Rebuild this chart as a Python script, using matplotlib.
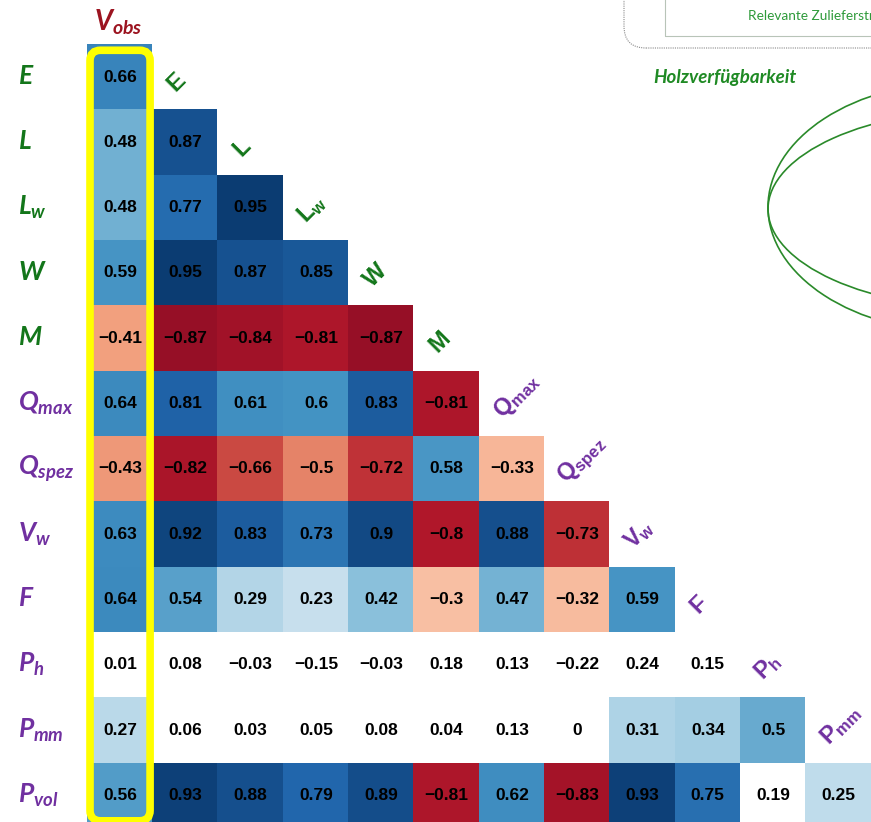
import matplotlib
matplotlib.use("Agg")
import matplotlib.pyplot as plt
import numpy as np
from matplotlib.patches import FancyBboxPatch, Ellipse, Rectangle
from matplotlib.transforms import IdentityTransform

plt.rcParams['mathtext.fontset'] = 'custom'
plt.rcParams['mathtext.it'] = 'Lato:italic:bold'
plt.rcParams['mathtext.rm'] = 'Liberation Sans:bold'
plt.rcParams['mathtext.bf'] = 'Liberation Sans:bold'

# variables (rows) and columns of the lower triangle
row_vars = ['E', 'L', 'L_w', 'W', 'M', 'Q_max', 'Q_spez', 'V_w', 'F', 'P_h', 'P_mm', 'P_vol']
col_vars = ['V_obs', 'E', 'L', 'L_w', 'W', 'M', 'Q_max', 'Q_spez', 'V_w', 'F', 'P_h', 'P_mm']
green_vars = ['E', 'L', 'L_w', 'W', 'M']

r_E = [0.66]
r_L = [0.48, 0.87]
r_Lw = [0.48, 0.77, 0.95]
r_W = [0.59, 0.95, 0.87, 0.85]
r_M = [-0.41, -0.87, -0.84, -0.81, -0.87]
r_Qmax = [0.64, 0.81, 0.61, 0.6, 0.83, -0.81]
r_Qspez = [-0.43, -0.82, -0.66, -0.5, -0.72, 0.58, -0.33]
r_Vw = [0.63, 0.92, 0.83, 0.73, 0.9, -0.8, 0.88, -0.73]
r_F = [0.64, 0.54, 0.29, 0.23, 0.42, -0.3, 0.47, -0.32, 0.59]
r_Ph = [0.01, 0.08, -0.03, -0.15, -0.03, 0.18, 0.13, -0.22, 0.24, 0.15]
r_Pmm = [0.27, 0.06, 0.03, 0.05, 0.08, 0.04, 0.13, 0, 0.31, 0.34, 0.5]
r_Pvol = [0.56, 0.93, 0.88, 0.79, 0.89, -0.81, 0.62, -0.83, 0.93, 0.75, 0.19, 0.25]
all_rows = [r_E, r_L, r_Lw, r_W, r_M, r_Qmax, r_Qspez, r_Vw, r_F, r_Ph, r_Pmm, r_Pvol]

# not significant -> no background colour
nonsig_rows = ['P_h']
nonsig_cut = 0.2

GREEN = '#13761a'
PURPLE = '#7030a0'
VOBS_RED = '#9c1420'

nr, nc = len(row_vars), len(col_vars)
mat = np.full((nr, nc), np.nan)
for i, vals in enumerate(all_rows):
    mat[i, :len(vals)] = vals

colour = mat.copy()
for i in range(nr):
    for j in range(nc):
        if np.isnan(mat[i, j]):
            continue
        if row_vars[i] in nonsig_rows or abs(mat[i, j]) < nonsig_cut:
            colour[i, j] = np.nan

W, H = 871, 822
fig = plt.figure(figsize=(W / 100, H / 100), dpi=100)
cell = 65.3
x0px, y0px = 87.4, 44.4
ax = fig.add_axes([x0px / W, 0, 1 - x0px / W, 1 - y0px / H])
ax.imshow(np.ma.masked_invalid(colour), cmap='RdBu', vmin=-1, vmax=1,
          aspect='auto', interpolation='nearest')
ax.set_xlim(-0.5, -0.5 + (W - x0px) / cell)
ax.set_ylim(-0.5 + (H - y0px) / cell, -0.5)
ax.axis('off')


def tex(name, style):
    base, _, sub = name.partition('_')
    if sub:
        return r'$\%s{%s}_{\%s{%s}}$' % (style, base, style, sub)
    return r'$\%s{%s}$' % (style, base)


# cell values
for i in range(nr):
    for j in range(nc):
        v = mat[i, j]
        if np.isnan(v):
            continue
        ax.text(j, i, f'{v:g}'.replace('-', '\u2212'), ha='center', va='center',
                fontsize=12.5, fontweight='bold', family='Liberation Sans', color='black')

# row labels on the left
for i, name in enumerate(row_vars):
    c = GREEN if name in green_vars else PURPLE
    ax.text(-1.57, i, tex(name, 'mathit'), ha='left', va='center', fontsize=19,
            color=c, clip_on=False)

# column header
ax.text(-0.03, -0.84, tex(col_vars[0], 'mathit'), ha='center', va='center', fontsize=20,
        color=VOBS_RED, clip_on=False)

# diagonal labels
for k, name in enumerate(col_vars[1:]):
    c = GREEN if name in green_vars else PURPLE
    ax.text(k + 1 - 0.22, k + 0.17, tex(name, 'mathrm'), ha='left', va='center',
            rotation=45, rotation_mode='anchor', fontsize=17, color=c, clip_on=False)

# yellow frame around the V_obs column
box = FancyBboxPatch((-0.46, -0.41), 0.92, 11.8, boxstyle='round,pad=0,rounding_size=0.16',
                     fill=False, ec='#ffff00', lw=5.5, clip_on=False, zorder=5)
ax.add_patch(box)

# decorations of the surrounding poster (top right)
px = IdentityTransform()
fig.add_artist(FancyBboxPatch((624, H - 48), 400, 200, boxstyle='round,pad=0,rounding_size=22',
                              fill=False, ec='#8a8a8a', lw=0.8, ls=(0, (1, 1)), transform=px))
fig.add_artist(Rectangle((665, H - 36), 400, 100, fill=False, ec='#b8c4b8', lw=0.8, transform=px))
fig.text(748 / W, 1 - 16 / H, 'Relevante Zulieferstruktur', ha='left', va='center',
         fontsize=9.8, family='Lato', color='#2e9a3a')
fig.text(653 / W, 1 - 77 / H, 'Holzverfügbarkeit', ha='left', va='center', fontsize=13.5,
         family='Lato', fontweight='bold', fontstyle='italic', color='#1f8a24')
fig.add_artist(Ellipse((960, H - 207), 384, 250, fill=False, ec='#2a8a2a', lw=1.2, transform=px))
fig.add_artist(Ellipse((990, H - 209), 444, 200, fill=False, ec='#2a8a2a', lw=1.2, transform=px))

fig.savefig('out.png', dpi=100)
